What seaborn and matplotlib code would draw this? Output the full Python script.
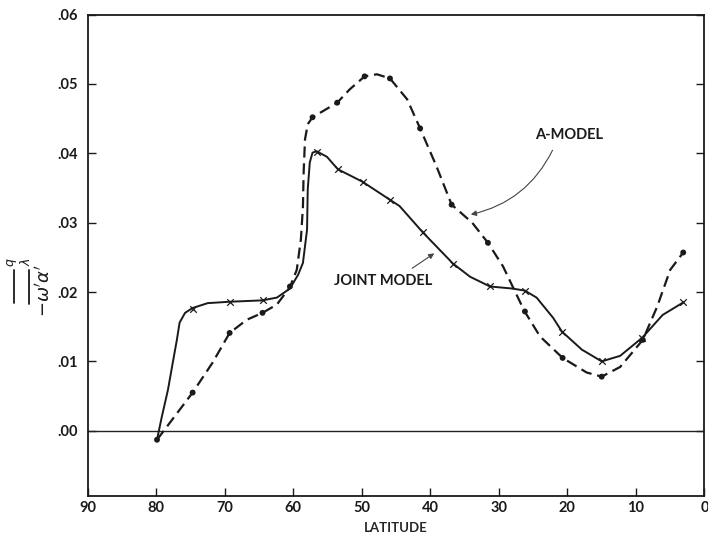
import numpy as np
import matplotlib
matplotlib.use("Agg")
import matplotlib.pyplot as plt
from matplotlib.lines import Line2D
from matplotlib.ticker import FuncFormatter
import seaborn as sns

sns.set_theme(style="white")
plt.rcParams['font.family'] = ['Lato', 'DejaVu Sans']
plt.rcParams['mathtext.fontset'] = 'dejavusans'

# ----------------------------------------------------------------
# DATA
# ----------------------------------------------------------------
# A-model: plotted (dotted) points
a_lat = [79.9, 74.7, 69.3, 64.5, 60.5, 57.2, 53.6, 49.6, 45.9, 41.5, 36.9,
         31.6, 26.2, 20.7, 15.0, 9.0, 3.1]
a_val = [-0.0013, 0.0055, 0.0141, 0.0170, 0.0208, 0.0452, 0.0473, 0.0511,
         0.0508, 0.0436, 0.0326, 0.0271, 0.0172, 0.0105, 0.0078, 0.0131, 0.0257]
# A-model: traced curve
a_curve_lat = [79.9, 74.7, 71.8, 69.3, 66.8, 64.5, 62.4, 60.5, 59.5, 58.9,
               58.6, 58.5, 58.3, 57.9, 57.2, 53.6, 51.8, 49.6, 47.8, 45.9,
               43.4, 41.5, 39.1, 36.9, 33.9, 31.6, 29.4, 28.0, 26.3, 24.0,
               20.7, 17.2, 15.0, 12.3, 9.0, 6.9, 5.0, 3.1]
a_curve_val = [-0.0013, 0.0055, 0.0098, 0.0141, 0.0160, 0.0170, 0.0182,
               0.0207, 0.0232, 0.0276, 0.0323, 0.0372, 0.0420, 0.0442, 0.0452,
               0.0473, 0.0492, 0.0511, 0.0514, 0.0508, 0.0478, 0.0436, 0.0381,
               0.0326, 0.0300, 0.0271, 0.0237, 0.0208, 0.0173, 0.0136, 0.0105,
               0.0084, 0.0078, 0.0092, 0.0131, 0.0179, 0.0232, 0.0257]

# Joint model: plotted (x) points
j_lat = [74.7, 69.3, 64.5, 56.6, 53.5, 49.9, 45.9, 41.1, 36.7, 31.3, 26.2,
         20.8, 15.0, 9.1, 3.1]
j_val = [0.0176, 0.0185, 0.0188, 0.0402, 0.0377, 0.0359, 0.0333, 0.0286,
         0.0241, 0.0208, 0.0202, 0.0143, 0.0100, 0.0134, 0.0185]
# Joint model: traced curve
j_curve_lat = [79.9, 79.2, 78.3, 77.6, 77.0, 76.6, 75.8, 74.7, 72.5, 69.3,
               64.5, 62.4, 60.5, 59.3, 58.6, 58.0, 57.9, 57.6, 57.2, 56.6,
               55.1, 53.5, 49.9, 45.9, 44.5, 41.1, 36.7, 34.2, 31.3, 28.0,
               26.2, 24.5, 22.1, 20.8, 17.9, 15.0, 12.3, 9.1, 6.1, 3.1]
j_curve_val = [-0.0013, 0.0020, 0.0059, 0.0098, 0.0131, 0.0156, 0.0170,
               0.0177, 0.0184, 0.0186, 0.0188, 0.0192, 0.0205, 0.0225, 0.0242,
               0.0290, 0.0348, 0.0387, 0.0401, 0.0403, 0.0395, 0.0377, 0.0359,
               0.0333, 0.0324, 0.0286, 0.0241, 0.0222, 0.0208, 0.0205, 0.0202,
               0.0192, 0.0163, 0.0143, 0.0117, 0.0100, 0.0108, 0.0134, 0.0167,
               0.0185]

x_ticks = [90, 80, 70, 60, 50, 40, 30, 20, 10, 0]
y_ticks = [0.00, 0.01, 0.02, 0.03, 0.04, 0.05, 0.06]

INK = '#1a1a1a'

# ----------------------------------------------------------------
# PLOT
# ----------------------------------------------------------------
fig = plt.figure(figsize=(7.08, 5.42), dpi=100)
ax = fig.add_axes([0.124, 0.085, 0.871, 0.888])

ax.axhline(0, color='#222222', lw=1.0, zorder=1)

sns.lineplot(x=a_curve_lat, y=a_curve_val, sort=False, estimator=None,
             color=INK, lw=1.6, linestyle=(0, (5, 2.6)), ax=ax)
sns.scatterplot(x=a_lat, y=a_val, color=INK, s=18, marker='o',
                edgecolor='none', ax=ax, zorder=3)

sns.lineplot(x=j_curve_lat, y=j_curve_val, sort=False, estimator=None,
             color=INK, lw=1.4, ax=ax)
sns.scatterplot(x=j_lat, y=j_val, color=INK, s=22, marker='x',
                linewidth=0.9, ax=ax, zorder=3)

ax.set_xlim(90, 0)
ax.set_ylim(-0.0094, 0.060)
ax.set_xticks(x_ticks)
ax.set_yticks(y_ticks)
ax.yaxis.set_major_formatter(FuncFormatter(lambda v, p: f"{v:.2f}".lstrip('0')))
ax.tick_params(axis='both', direction='in', length=6, width=1.0,
               colors=INK, labelsize=10.5)
ax.tick_params(axis='y', right=True, left=True, labelright=False, pad=7)
ax.tick_params(axis='x', bottom=True, top=False, pad=4)
for lab in ax.get_xticklabels() + ax.get_yticklabels():
    lab.set_fontweight('bold')

for s in ax.spines.values():
    s.set_color(INK)
    s.set_linewidth(1.3)
    s.set_visible(True)

ax.set_xlabel('LATITUDE', fontsize=9.5, fontweight='bold', labelpad=5)

# y label: -w'a' with zonal (lambda) and q averaging bars
W, H = 708.0, 542.0
fig.text(43 / W, 1 - 291 / H, r"$-\omega^{\prime}\alpha^{\prime}$", rotation=90,
         ha='center', va='center', fontsize=13, color=INK)
fig.add_artist(Line2D([29 / W, 29 / W], [1 - 304 / H, 1 - 270 / H],
                      color=INK, lw=1.3))
fig.text(25 / W, 1 - 262 / H, r"$\lambda$", rotation=90, ha='center',
         va='center', fontsize=9, color=INK)
fig.add_artist(Line2D([14 / W, 14 / W], [1 - 303 / H, 1 - 270 / H],
                      color=INK, lw=1.3))
fig.text(12 / W, 1 - 262 / H, r"$q$", rotation=90, ha='center',
         va='center', fontsize=9, color=INK)

ax.text(19.8, 0.0427, 'A-MODEL', ha='center', va='center',
        fontsize=10.5, fontweight='bold', color=INK)
ax.annotate('', xy=(34.5, 0.0311), xytext=(22.0, 0.0408),
            arrowprops=dict(arrowstyle='-|>', color='#444444', lw=0.8,
                            mutation_scale=8,
                            connectionstyle='arc3,rad=-0.25'))

ax.text(46.9, 0.0216, 'JOINT MODEL', ha='center', va='center',
        fontsize=10.5, fontweight='bold', color=INK)
ax.annotate('', xy=(39.1, 0.0258), xytext=(43.0, 0.0232),
            arrowprops=dict(arrowstyle='-|>', color='#444444', lw=0.8,
                            mutation_scale=8))

plt.savefig('out.png', dpi=100)
plt.close()
